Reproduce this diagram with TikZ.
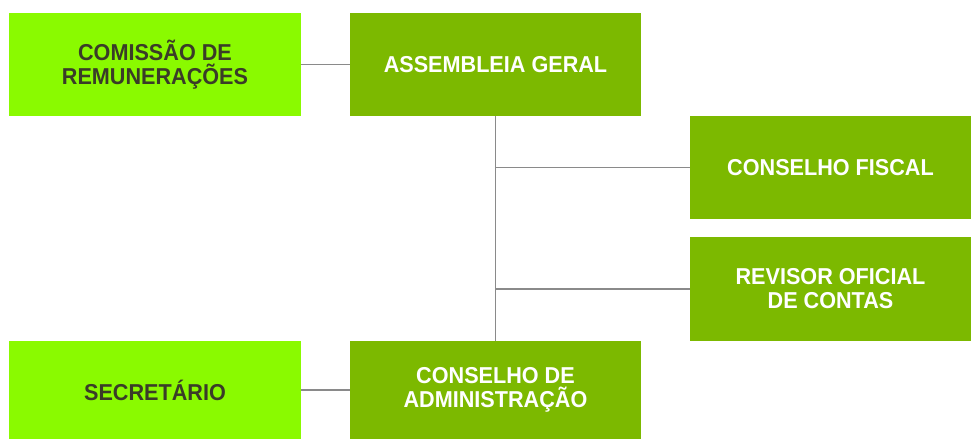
\documentclass[tikz,border=0pt]{standalone}
\usepackage{fontspec}
\newfontfamily\orgfont{Liberation Sans}[FakeStretch=0.94]
\usetikzlibrary{positioning,calc}
\definecolor{limegreen}{RGB}{138,250,0}
\definecolor{olivegreen}{RGB}{124,185,0}
\definecolor{darktext}{RGB}{58,60,40}
\definecolor{linkgray}{RGB}{138,138,138}
\tikzset{
    unit/.style={
        rectangle,
        draw=none,
        align=center,
        inner sep=0pt,
        font=\orgfont\bfseries\fontsize{23}{24}\selectfont,
    },
    side/.style={
        unit,
        fill=limegreen,
        text=darktext,
    },
    board/.style={
        unit,
        fill=olivegreen,
        text=white,
    },
    link/.style={
        draw=linkgray,
        line width=1.4pt,
    },
}
\begin{document}
\begin{tikzpicture}[x=1pt,y=-1pt]
	    \useasboundingbox (0,0) rectangle (971,439);
	    \node [side,minimum width=292pt,minimum height=103pt] (cr) at (155,64.5) {COMISSÃO DE\\REMUNERAÇÕES};
	    \node [board,minimum width=291pt,minimum height=103pt] (ag) at (495.5,64.5) {ASSEMBLEIA GERAL};
	    \node [board,minimum width=281pt,minimum height=103pt] (cf) at (830.5,167.5) {CONSELHO FISCAL};
	    \node [board,minimum width=281pt,minimum height=104pt] (roc) at (830.5,289) {REVISOR OFICIAL\\DE CONTAS};
	    \node [side,minimum width=292pt,minimum height=98pt] (sec) at (155,390) {SECRETÁRIO};
	    \node [board,minimum width=291pt,minimum height=98pt] (ca) at (495.5,390) {CONSELHO DE\\ADMINISTRAÇÃO};
	    \path [link] (cr) -- (ag);
	    \path [link] (ag.south) -- (ca.north);
	    \path [link] (ag.south |- cf.west) -- (cf.west);
	    \path [link] (ag.south |- roc.west) -- (roc.west);
	    \path [link] (sec) -- (ca);
	\end{tikzpicture}
\end{document}
